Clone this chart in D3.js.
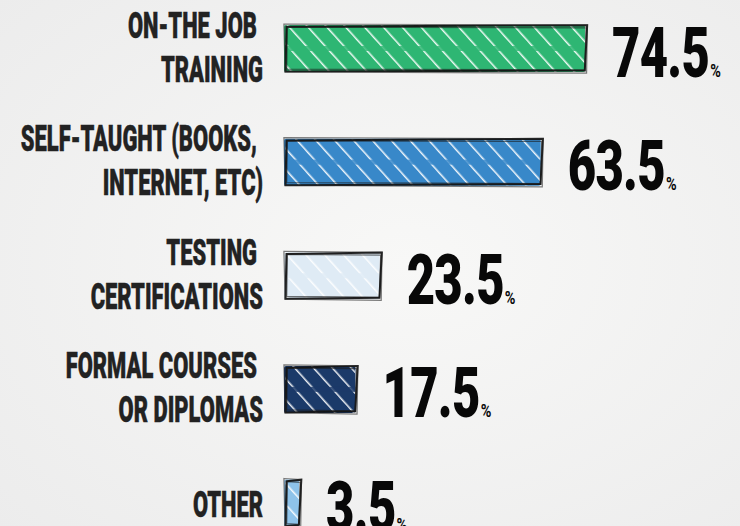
<!DOCTYPE html>
<html>
<head>
<meta charset="utf-8">
<script src="https://cdn.jsdelivr.net/npm/d3@7"></script>
<style>
  html, body { margin: 0; padding: 0; background: #f3f3f3; }
  svg { display: block; }
</style>
</head>
<body>
<svg id="chart" width="740" height="526"></svg>
<script>
// ---- data ----
const categories = ["ON-THE JOB|TRAINING", "SELF-TAUGHT (BOOKS,|INTERNET, ETC)", "TESTING|CERTIFICATIONS", "FORMAL COURSES|OR DIPLOMAS", "OTHER"];
const values = [74.5, 63.5, 23.5, 17.5, 3.5];
const colors = ["#2eb673", "#3888c9", "#dfebf5", "#1b3a69", "#8ec3ea"];
const valueLabels = ["74.5", "63.5", "23.5", "17.5", "3.5"];

// ---- layout ----
const W = 740, H = 526;
const svg = d3.select("#chart");
const x0 = 285;
const x = d3.scaleLinear().domain([0, 75]).range([0, 302]);
const y = d3.scalePoint().domain(d3.range(categories.length)).range([48.5, 503]);
const barH = 47;
const labelRight = 263;
const sxLabel = 0.585, sxNum = 0.7;
const FONT = "Roboto, 'Liberation Sans', sans-serif";

const defs = svg.append("defs");
const bg = defs.append("radialGradient").attr("id", "bg").attr("cx", "55%").attr("cy", "50%").attr("r", "75%");
bg.append("stop").attr("offset", "0%").attr("stop-color", "#f8f8f7");
bg.append("stop").attr("offset", "100%").attr("stop-color", "#ececec");
svg.append("rect").attr("width", W).attr("height", H).attr("fill", "url(#bg)");

const pat = defs.append("pattern").attr("id", "hatch").attr("patternUnits", "userSpaceOnUse")
  .attr("width", 14).attr("height", 14).attr("patternTransform", "rotate(-42)");
pat.append("line").attr("x1", 0).attr("y1", 0).attr("x2", 0).attr("y2", 14)
  .attr("stroke", "#ffffff").attr("stroke-width", 3).attr("stroke-opacity", 0.92);

function roughPath(xa, ya, w, h, j) {
  const p = d3.path();
  p.moveTo(xa + j[0], ya + j[1]);
  p.lineTo(xa + w + j[2], ya - j[1]);
  p.lineTo(xa + w - j[2], ya + h + j[3]);
  p.lineTo(xa - j[0], ya + h - j[3]);
  p.closePath();
  return p.toString();
}

const rows = svg.selectAll("g.row").data(values).join("g").attr("class", "row");

rows.each(function(v, i) {
  const g = d3.select(this);
  const cy = y(i);
  const top = cy - barH / 2;
  const w = x(v);
  const clipId = "clip" + i;
  defs.append("clipPath").attr("id", clipId).append("rect")
    .attr("x", x0).attr("y", top).attr("width", w).attr("height", barH);

  g.append("rect").attr("x", x0 - 1).attr("y", top).attr("width", w + 1).attr("height", barH)
    .attr("fill", colors[i]).attr("rx", 2);
  g.append("rect").attr("x", x0).attr("y", top).attr("width", w).attr("height", barH)
    .attr("fill", "url(#hatch)").attr("clip-path", `url(#${clipId})`);
  g.append("rect").attr("x", x0).attr("y", cy - 2.5).attr("width", w).attr("height", 5)
    .attr("fill", colors[i]).attr("opacity", 0.8);

  // sketchy outline, several passes
  g.append("path").attr("d", roughPath(x0 + 1, top + 1, w, barH - 2, [0.5, 0.8, 1.2, -0.6]))
    .attr("fill", "none").attr("stroke", "#141414").attr("stroke-width", 2).attr("stroke-opacity", 0.95);
  g.append("path").attr("d", roughPath(x0 - 0.5, top - 0.5, w + 2.5, barH + 1, [-0.6, -0.5, 0.4, 0.7]))
    .attr("fill", "none").attr("stroke", "#2a2a2a").attr("stroke-width", 1.2).attr("stroke-opacity", 0.6);
  g.append("path").attr("d", roughPath(x0 + 2, top + 2.5, w - 1.5, barH - 5, [0.3, -0.3, 0.6, 0.4]))
    .attr("fill", "none").attr("stroke", "#1a1a1a").attr("stroke-width", 1.3).attr("stroke-opacity", 0.6);

  // category labels
  const lines = categories[i].split("|");
  lines.forEach((t, k) => {
    const by = lines.length === 1 ? cy + 14 : (k === 0 ? cy - 11 : cy + 33);
    const rx = lines.length > 1 && k === 0 ? labelRight - 6 : labelRight;
    g.append("text")
      .attr("transform", `translate(${rx},${by}) scale(${sxLabel},1)`)
      .attr("text-anchor", "end")
      .attr("font-family", FONT)
      .attr("font-weight", 900)
      .attr("font-size", 37.5)
      .attr("fill", "#222")
      .attr("stroke", "#222").attr("stroke-width", 0.5)
      .text(t);
  });

  // value labels
  const nx = x0 + w + 27;
  const ny = cy + 28;
  const num = g.append("text")
    .attr("transform", `translate(${nx},${ny}) scale(${sxNum},1)`)
    .attr("font-family", FONT)
    .attr("font-weight", 900)
    .attr("font-size", 70)
    .attr("letter-spacing", -1)
    .attr("fill", "#080808")
    .text(valueLabels[i]);
  const nw = num.node().getComputedTextLength() * sxNum;
  g.append("text")
    .attr("transform", `translate(${nx + nw + 1},${ny}) scale(0.8,1)`)
    .attr("font-family", FONT)
    .attr("font-weight", 700)
    .attr("font-size", 18)
    .attr("fill", "#080808")
    .text("%");
});
</script>
</body>
</html>
